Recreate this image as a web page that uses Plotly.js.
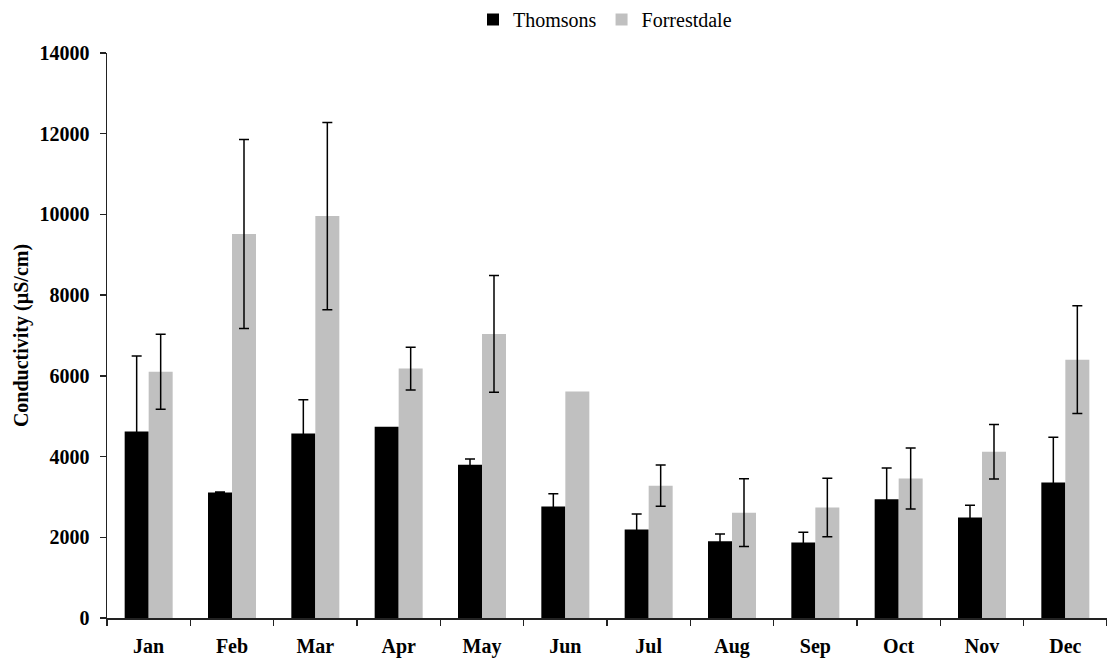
<!DOCTYPE html>
<html>
<head>
<meta charset="utf-8">
<script src="https://cdn.plot.ly/plotly-3.0.1.min.js"></script>
<style>html,body{margin:0;padding:0;background:#fff;}#chart{width:1107px;height:662px;}</style>
</head>
<body>
<div id="chart"></div>
<script>
const months = ["Jan","Feb","Mar","Apr","May","Jun","Jul","Aug","Sep","Oct","Nov","Dec"];
const thomsons = [4620, 3110, 4570, 4740, 3800, 2760, 2190, 1900, 1870, 2940, 2490, 3360];
const thomsonsErr = [1870, 15, 840, NaN, 140, 320, 390, 180, 255, 775, 305, 1120];
const forrestdale = [6100, 9515, 9960, 6180, 7040, 5610, 3280, 2610, 2740, 3455, 4120, 6400];
const forrestdaleErr = [930, 2340, 2320, 530, 1445, NaN, 510, 840, 725, 755, 675, 1335];

const fontFam = '"Liberation Serif", "Times New Roman", serif';

const traces = [
  {
    type: 'bar', name: 'Thomsons', x: months, y: thomsons,
    marker: {color: '#000000'},
    error_y: {type: 'data', array: thomsonsErr, visible: true, color: '#000', thickness: 1.5, width: 5}
  },
  {
    type: 'bar', name: 'Forrestdale', x: months, y: forrestdale,
    marker: {color: '#c0c0c0'},
    error_y: {type: 'data', array: forrestdaleErr, visible: true, color: '#000', thickness: 1.5, width: 5}
  }
];

const layout = {
  width: 1107, height: 662,
  margin: {l: 107, r: 0, t: 52, b: 44},
  paper_bgcolor: '#fff', plot_bgcolor: '#fff',
  font: {family: fontFam, color: '#000'},
  barmode: 'group', bargap: 0.424, bargroupgap: 0,
  showlegend: true,
  legend: {
    orientation: 'h', x: 0.498, xanchor: 'center', y: 1.06, yanchor: 'middle',
    font: {family: fontFam, size: 20, color: '#000'},
    tracegroupgap: 0
  },
  xaxis: {
    type: 'category',
    showline: true, linecolor: '#222', linewidth: 1.5,
    ticks: 'outside', ticklen: 6, tickcolor: '#222', tickwidth: 1.5,
    tickson: 'boundaries',
    ticklabelstandoff: 9,
    tickfont: {family: fontFam, size: 20, color: '#000', weight: 'bold'},
    showgrid: false, zeroline: false
  },
  yaxis: {
    range: [0, 14000], dtick: 2000, tick0: 0,
    showline: true, linecolor: '#222', linewidth: 1.5,
    ticks: 'outside', ticklen: 6, tickcolor: '#222', tickwidth: 1.5,
    ticklabelstandoff: 6,
    tickfont: {family: fontFam, size: 20, color: '#000', weight: 'bold'},
    tickformat: 'd',
    showgrid: false, zeroline: false,
    title: {text: 'Conductivity (µS/cm)', font: {family: fontFam, size: 20, color: '#000', weight: 'bold'}, standoff: 5}
  }
};

Plotly.newPlot('chart', traces, layout, {displayModeBar: false, staticPlot: true});
</script>
</body>
</html>
